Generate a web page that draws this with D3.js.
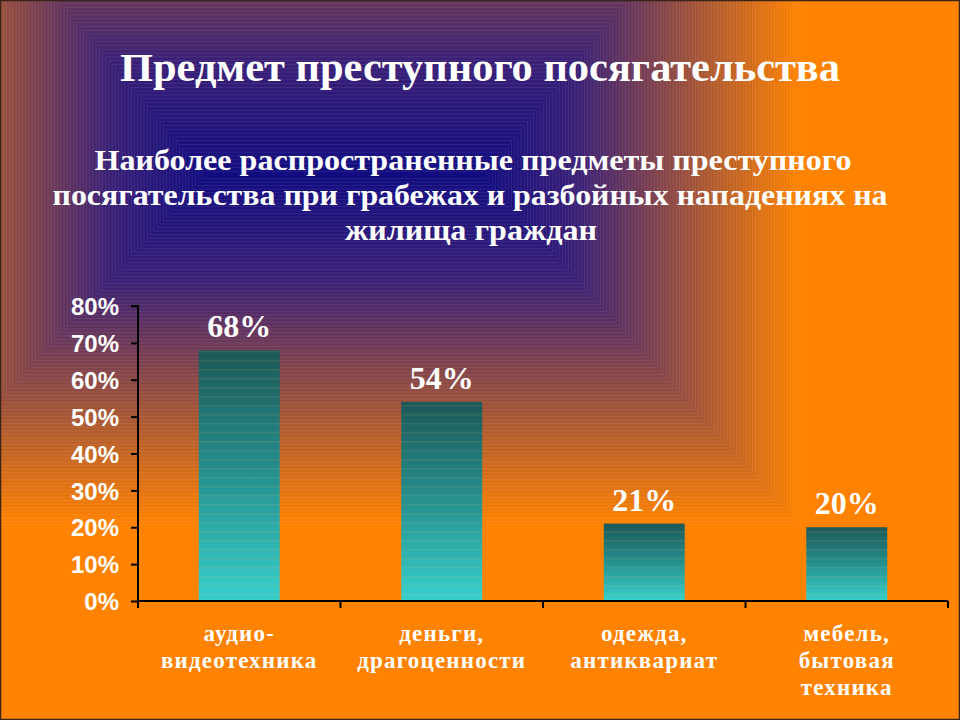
<!DOCTYPE html>
<html>
<head>
<meta charset="utf-8">
<script src="https://cdn.jsdelivr.net/npm/d3@7"></script>
<style>
  html, body { margin: 0; padding: 0; background: #ff8200; }
  svg { display: block; }
</style>
</head>
<body>
<svg id="chart" width="960" height="720"></svg>
<script>
// ---- data ----
const title = "Предмет преступного посягательства";
const subtitleLines = [
  "Наиболее распространенные предметы преступного",
  "посягательства при грабежах и разбойных нападениях на",
  "жилища граждан"
];
const categories = [
  "аудио-\nвидеотехника",
  "деньги,\nдрагоценности",
  "одежда,\nантиквариат",
  "мебель,\nбытовая\nтехника"
];
const values = [68, 54, 21, 20];
const yTicks = [0, 10, 20, 30, 40, 50, 60, 70, 80];

// ---- setup ----
const W = 960, H = 720;
const svg = d3.select("#chart");
const defs = svg.append("defs");

// background: banded rectangular gradient (blue centre -> orange)
const inner = {l: 205, r: 483, t: 175, b: 175};
const outer = {l: -115, r: 800, t: -206, b: 525};
const colAt = d3.scaleLinear()
  .domain([0, 0.3, 1])
  .range(["rgb(18,12,128)", "rgb(58,32,118)", "rgb(255,130,0)"])
  .interpolate(d3.interpolateRgb);
svg.append("rect").attr("width", W).attr("height", H).attr("fill", "rgb(255,130,0)");
const N = 100;
const bg = svg.append("g");
for (let i = N - 1; i >= 0; i--) {
  const s = (i + 1) / N;
  const l = inner.l + (outer.l - inner.l) * s;
  const r = inner.r + (outer.r - inner.r) * s;
  const t = inner.t + (outer.t - inner.t) * s;
  const b = inner.b + (outer.b - inner.b) * s;
  bg.append("rect")
    .attr("x", l).attr("y", t).attr("width", r - l).attr("height", b - t)
    .attr("fill", colAt((i + 0.5) / N))
    .attr("stroke", "rgba(255,255,255,0.10)")
    .attr("stroke-width", 0.8);
}

// ---- titles ----
const serif = "'Liberation Serif', 'Times New Roman', serif";
svg.append("text")
  .attr("x", 480).attr("y", 81)
  .attr("text-anchor", "middle")
  .attr("font-family", serif).attr("font-weight", "bold")
  .attr("font-size", 40).attr("fill", "#fff")
  .attr("textLength", 720).attr("lengthAdjust", "spacingAndGlyphs")
  .text(title);

const subW = [757, 835, 252];
const subX = [473, 470, 471];
subtitleLines.forEach((line, i) => {
  svg.append("text")
    .attr("x", subX[i]).attr("y", 170 + i * 35)
    .attr("text-anchor", "middle")
    .attr("font-family", serif).attr("font-weight", "bold")
    .attr("font-size", 30).attr("fill", "#fff")
    .attr("textLength", subW[i]).attr("lengthAdjust", "spacingAndGlyphs")
    .text(line);
});

// ---- chart ----
const x0 = 138, x1 = 948, yBase = 601, yTop = 306;
const x = d3.scaleBand().domain(categories).range([x0, x1]).paddingInner(0.6).paddingOuter(0.3);
const y = d3.scaleLinear().domain([0, 80]).range([yBase, yTop]);

// bar gradient
const grad = defs.append("linearGradient").attr("id", "barGrad")
  .attr("x1", 0).attr("y1", 0).attr("x2", 0).attr("y2", 1);
grad.append("stop").attr("offset", "0%").attr("stop-color", "#1c5858");
grad.append("stop").attr("offset", "50%").attr("stop-color", "#26918f");
grad.append("stop").attr("offset", "100%").attr("stop-color", "#38d0cc");
const pat = defs.append("pattern").attr("id", "stripes")
  .attr("width", 4).attr("height", 9).attr("patternUnits", "userSpaceOnUse");
pat.append("rect").attr("width", 4).attr("height", 1.5).attr("fill", "rgba(255,200,120,0.10)");

const data = categories.map((c, i) => ({c, v: values[i]}));
const bars = svg.append("g");
bars.selectAll("rect.bar").data(data).join("rect")
  .attr("class", "bar")
  .attr("x", d => x(d.c)).attr("y", d => y(d.v))
  .attr("width", x.bandwidth()).attr("height", d => yBase - y(d.v))
  .attr("fill", "url(#barGrad)");
bars.selectAll("rect.str").data(data).join("rect")
  .attr("class", "str")
  .attr("x", d => x(d.c)).attr("y", d => y(d.v))
  .attr("width", x.bandwidth()).attr("height", d => yBase - y(d.v))
  .attr("fill", "url(#stripes)");

// value labels
svg.append("g").selectAll("text").data(data).join("text")
  .attr("x", d => x(d.c) + x.bandwidth() / 2)
  .attr("y", d => y(d.v) - 13)
  .attr("text-anchor", "middle")
  .attr("font-family", serif).attr("font-weight", "bold")
  .attr("font-size", 32).attr("fill", "#fff")
  .text(d => d.v + "%");

// y axis
const yAxis = d3.axisLeft(y).tickValues(yTicks).tickFormat(d => d + "%").tickSize(7).tickPadding(12);
const gy = svg.append("g").attr("transform", `translate(${x0},0)`).call(yAxis);
gy.select(".domain").attr("stroke", "#000").attr("stroke-width", 2).attr("d", `M-7,${yTop}H0V${yBase}`);
gy.selectAll(".tick line").attr("stroke", "#000").attr("stroke-width", 2);
gy.selectAll(".tick text")
  .attr("fill", "#fff")
  .attr("font-family", "'Liberation Sans', Arial, sans-serif")
  .attr("font-weight", "bold")
  .attr("font-size", 24)
  .attr("dy", "0.36em");

// x axis
const gx = svg.append("g").attr("transform", `translate(0,${yBase})`);
gx.append("line").attr("x1", x0).attr("x2", x1).attr("y1", 0).attr("y2", 0)
  .attr("stroke", "#000").attr("stroke-width", 2);
const bounds = categories.map(c => x(c) - x.step() * x.paddingOuter()).concat([x1]);
gx.selectAll("line.tk").data(bounds).join("line").attr("class", "tk")
  .attr("x1", d => d).attr("x2", d => d).attr("y1", 0).attr("y2", 7)
  .attr("stroke", "#000").attr("stroke-width", 2);

// category labels
const cl = svg.append("g").selectAll("text").data(categories).join("text")
  .attr("text-anchor", "middle")
  .attr("font-family", serif).attr("font-weight", "bold")
  .attr("font-size", 23).attr("fill", "#fff")
  .attr("letter-spacing", 1.2);
cl.each(function(c) {
  const cx = x(c) + x.bandwidth() / 2;
  d3.select(this).selectAll("tspan").data(c.split("\n")).join("tspan")
    .attr("x", cx).attr("y", (d, i) => 641 + i * 27)
    .text(d => d);
});

// slide frame
svg.append("rect").attr("x", 0.5).attr("y", 0.5).attr("width", W - 1).attr("height", H - 1)
  .attr("fill", "none").attr("stroke", "#3a2418").attr("stroke-width", 1.5);
</script>
</body>
</html>
